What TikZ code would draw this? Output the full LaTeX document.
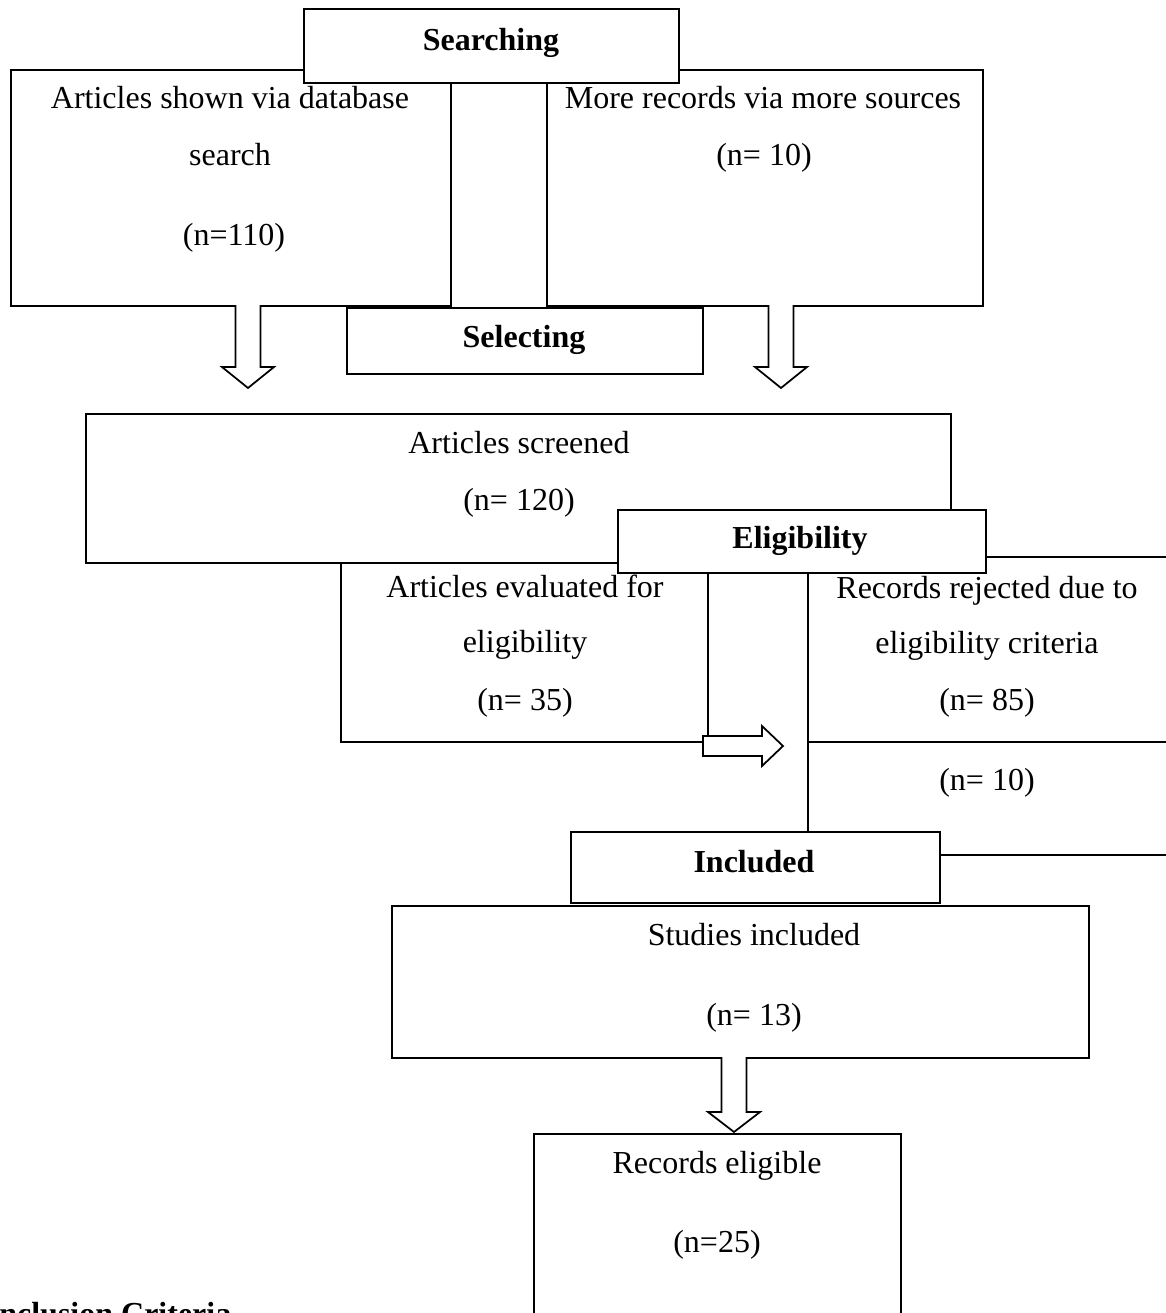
\documentclass[tikz,border=0pt]{standalone}
\usepackage{fontspec}
\setmainfont{Liberation Serif}
\usetikzlibrary{calc}

\newlength\unitpx
\setlength\unitpx{0.4pt}

\tikzset{
  box/.style={draw, line width=0.7pt, fill=white, anchor=north west, inner sep=0pt},
  flow/.style={draw, line width=0.7pt, fill=white},
  lbl/.style={anchor=base, inner sep=0pt, font=\fontsize{12.8}{15}\selectfont},
  hd/.style={anchor=base, inner sep=0pt, font=\fontsize{12.8}{15}\selectfont\bfseries}
}

\newcommand{\blockdown}[3]{%
  \draw[flow] ($(#1)+(-12.5,0)$) -- ++(0,#2) -- ++(-13.5,0) -- ++(26,#3) -- ++(26,-#3) -- ++(-13.5,0) -- ++(0,-#2);}

\begin{document}
\begin{tikzpicture}[x=0.4pt, y=-0.4pt, line width=0.7pt]
      \useasboundingbox (0,0) rectangle (1166,1313);

      \node[box, minimum width=440*\unitpx, minimum height=236*\unitpx] (dbbox) at (10,69) {};
      \node[box, minimum width=436*\unitpx, minimum height=236*\unitpx] (srcbox) at (546,69) {};
      \node[box, minimum width=375*\unitpx, minimum height=74*\unitpx] (search) at (303,8) {};
      \node[box, minimum width=356*\unitpx, minimum height=66*\unitpx] (select) at (346,307) {};

      \node[hd] (searchtxt) at (491,50) {Searching};
      \node[lbl] (db1) at (230,108) {Articles shown via database};
      \node[lbl] (db2) at (230,165) {search};
      \node[lbl] (db3) at (234,245) {(n=110)};
      \node[lbl] (src1) at (763,108) {More records via more sources};
      \node[lbl] (src2) at (764,165) {(n= 10)};
      \node[hd] (selecttxt) at (524,347) {Selecting};

      \coordinate (arrL) at (248,305);
      \coordinate (arrR) at (781,305);
      \blockdown{arrL}{62}{21}
      \blockdown{arrR}{62}{21}

      \node[box, minimum width=865*\unitpx, minimum height=149*\unitpx] (screen) at (85,413) {};
      \node[lbl] (scr1) at (519,453) {Articles screened};
      \node[lbl] (scr2) at (519,510) {(n= 120)};
      \node[box, minimum width=368*\unitpx, minimum height=63*\unitpx] (elig) at (617,509) {};
      \node[hd] (eligtxt) at (800,548) {Eligibility};

      \coordinate (evalL) at (341,742);
      \coordinate (evalR) at (708,742);
      \draw (evalL |- screen.south) -- (evalL) -- (evalR) -- (evalR |- elig.south);
      \node[lbl] (ev1) at (525,597) {Articles evaluated for};
      \node[lbl] (ev2) at (525,652) {eligibility};
      \node[lbl] (ev3) at (525,710) {(n= 35)};

      \draw[flow] (703,736) -- (762,736) -- (762,726) -- (783,746) -- (762,766) -- (762,756) -- (703,756) -- cycle;

      \node[box, minimum width=369*\unitpx, minimum height=71*\unitpx] (incl) at (570,831) {};
      \node[hd] (incltxt) at (754,872) {Included};

      \coordinate (rejTop) at (1166,557);
      \coordinate (rejL) at (808,742);
      \coordinate (rejR) at (1166,742);
      \coordinate (inclR) at (1166,855);
      \draw (rejTop -| elig.east) -- (rejTop);
      \draw (rejL |- elig.south) -- (rejL |- incl.north);
      \draw (rejL) -- (rejR);
      \draw (inclR -| incl.east) -- (inclR);
      \node[lbl] (rej1) at (987,598) {Records rejected due to};
      \node[lbl] (rej2) at (987,653) {eligibility criteria};
      \node[lbl] (rej3) at (987,710) {(n= 85)};
      \node[lbl] (rej4) at (987,790) {(n= 10)};

      \node[box, minimum width=697*\unitpx, minimum height=152*\unitpx] (study) at (391,905) {};
      \node[lbl] (st1) at (754,945) {Studies included};
      \node[lbl] (st2) at (754,1025) {(n= 13)};

      \coordinate (arrS) at (734,1057);
      \blockdown{arrS}{55}{20}

      \node[box, minimum width=367*\unitpx, minimum height=300*\unitpx] (elgbox) at (533,1133) {};
      \node[lbl] (el1) at (717,1173) {Records eligible};
      \node[lbl] (el2) at (717,1252) {(n=25)};

      \node[hd, anchor=base west] (crit) at (-14,1324) {Inclusion Criteria};
\end{tikzpicture}
\end{document}
